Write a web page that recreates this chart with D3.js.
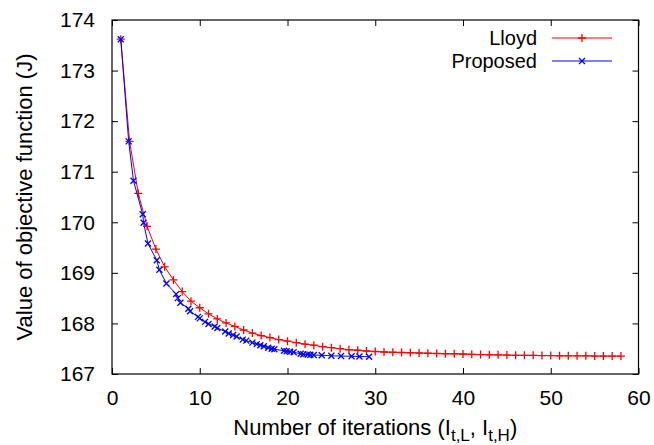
<!DOCTYPE html>
<html>
<head>
<meta charset="utf-8">
<script src="https://cdn.jsdelivr.net/npm/d3@7"></script>
<style>
    body { margin: 0; background: #fff; }
    text { font-family: "Liberation Sans", Arial, Helvetica, sans-serif; }
    .axis path { display: none; }
    .axis line { stroke: #000; stroke-width: 1; }
    .axis text { font-size: 21px; fill: #000; }
</style>
</head>
<body>
<div id="chart"></div>
<script>
// Lloyd: one value per iteration 1..58
const lloydX = d3.range(1, 59);
const lloydY = [
    173.62, 171.60, 170.57, 169.92, 169.47, 169.12, 168.86, 168.63, 168.44, 168.31,
    168.19, 168.09, 168.01, 167.94, 167.87, 167.81, 167.76, 167.72, 167.68, 167.65,
    167.62, 167.59, 167.57, 167.54, 167.52, 167.50, 167.48, 167.47, 167.455, 167.445,
    167.435, 167.43, 167.425, 167.42, 167.415, 167.41, 167.405, 167.40, 167.40, 167.395,
    167.39, 167.385, 167.38, 167.38, 167.375, 167.37, 167.37, 167.37, 167.365, 167.365,
    167.36, 167.36, 167.36, 167.36, 167.355, 167.355, 167.355, 167.355
];

// Proposed: fractional iteration counts
const propX = [
    1.0, 1.9, 2.45, 3.5, 3.6, 4.1, 5.1, 5.4, 6.2, 7.3,
    7.5, 7.8, 8.7, 8.9, 9.8, 10.0, 10.6, 11.0, 11.7, 12.0,
    12.9, 13.3, 13.8, 14.2, 14.9, 15.3, 16.0, 16.5, 16.9, 17.3,
    17.8, 18.2, 18.5, 19.6, 19.9, 20.3, 20.7, 21.5, 21.8, 22.3,
    22.6, 23.0, 23.9, 25.0, 26.1, 27.3, 28.2, 29.3
];
const propY = [
    173.62, 171.60, 170.82, 170.16, 169.99, 169.58, 169.25, 169.06, 168.79, 168.58,
    168.50, 168.41, 168.29, 168.24, 168.13, 168.10, 168.03, 167.99, 167.94, 167.91,
    167.84, 167.80, 167.77, 167.74, 167.68, 167.66, 167.62, 167.59, 167.57, 167.55,
    167.52, 167.50, 167.49, 167.46, 167.45, 167.44, 167.43, 167.40, 167.39, 167.385,
    167.38, 167.375, 167.37, 167.36, 167.355, 167.35, 167.345, 167.342
];

const xTicks = [0, 10, 20, 30, 40, 50, 60];
const yTicks = [167, 168, 169, 170, 171, 172, 173, 174];
const seriesNames = ['Lloyd', 'Proposed'];

(function () {

    const W = 654, H = 445;
    const left = 112, right = 638.5, top = 20, bottom = 374;

    const svg = d3.select('#chart')
        .append('svg')
        .attr('width', W)
        .attr('height', H);

    // scales
    const x = d3.scaleLinear().domain([0, 60]).range([left, right]);
    const y = d3.scaleLinear().domain([167, 174]).range([bottom, top]);

    // axes, ticks pointing inwards on all four sides
    svg.append('g')
        .attr('class', 'axis')
        .attr('transform', `translate(0, ${bottom})`)
        .call(d3.axisBottom(x).tickValues(xTicks).tickFormat(d3.format('d'))
            .tickSizeInner(-6).tickSizeOuter(0).tickPadding(16));

    svg.append('g')
        .attr('class', 'axis')
        .attr('transform', `translate(${left}, 0)`)
        .call(d3.axisLeft(y).tickValues(yTicks).tickFormat(d3.format('d'))
            .tickSizeInner(-6).tickSizeOuter(0).tickPadding(17));

    svg.append('g')
        .attr('class', 'axis')
        .attr('transform', `translate(0, ${top})`)
        .call(d3.axisTop(x).tickValues(xTicks).tickSizeInner(-6).tickSizeOuter(0).tickFormat(''));

    svg.append('g')
        .attr('class', 'axis')
        .attr('transform', `translate(${right}, 0)`)
        .call(d3.axisRight(y).tickValues(yTicks).tickSizeInner(-6).tickSizeOuter(0).tickFormat(''));

    svg.append('rect')
        .attr('x', left)
        .attr('y', top)
        .attr('width', right - left)
        .attr('height', bottom - top)
        .attr('fill', 'none')
        .attr('stroke', '#000')
        .attr('stroke-width', 1.2);

    // axis titles
    const xt = svg.append('text')
        .attr('x', (left + right) / 2)
        .attr('y', 435)
        .attr('text-anchor', 'middle')
        .attr('font-size', 22);
    xt.append('tspan').text('Number of iterations (I');
    xt.append('tspan').attr('dy', 6).attr('font-size', 17).text('t,L');
    xt.append('tspan').attr('dy', -6).text(', I');
    xt.append('tspan').attr('dy', 6).attr('font-size', 17).text('t,H');
    xt.append('tspan').attr('dy', -6).text(')');

    svg.append('text')
        .attr('transform', `translate(32, ${(top + bottom) / 2}) rotate(-90)`)
        .attr('text-anchor', 'middle')
        .attr('font-size', 22)
        .text('Value of objective function (J)');

    const line = d3.line()
        .x(d => x(d[0]))
        .y(d => y(d[1]));

    const plus = (g, s) => g.append('path')
        .attr('d', `M${-s},0H${s}M0,${-s}V${s}`);
    const cross = (g, s) => g.append('path')
        .attr('d', `M${-s},${-s}L${s},${s}M${-s},${s}L${s},${-s}`);

    const series = [
        { name: seriesNames[0], color: '#ff0000', data: d3.zip(lloydX, lloydY), mark: plus, size: 4 },
        { name: seriesNames[1], color: '#0000ff', data: d3.zip(propX, propY), mark: cross, size: 3 }
    ];

    series.forEach((s, i) => {
        const g = svg.append('g');

        g.append('path')
            .datum(s.data)
            .attr('d', line)
            .attr('fill', 'none')
            .attr('stroke', s.color)
            .attr('stroke-width', 1);

        g.selectAll('g.pt')
            .data(s.data)
            .enter()
            .append('g')
            .attr('class', 'pt')
            .attr('transform', d => `translate(${x(d[0])}, ${y(d[1])})`)
            .each(function () {
                s.mark(d3.select(this), s.size)
                    .attr('stroke', s.color)
                    .attr('stroke-width', 1.3)
                    .attr('fill', 'none');
            });

        // legend
        const ly = 38 + i * 23;
        svg.append('text')
            .attr('x', 537)
            .attr('y', ly + 7)
            .attr('text-anchor', 'end')
            .attr('font-size', 20)
            .text(s.name);
        svg.append('line')
            .attr('x1', 552).attr('x2', 612)
            .attr('y1', ly).attr('y2', ly)
            .attr('stroke', s.color)
            .attr('stroke-width', 1);
        const lm = svg.append('g').attr('transform', `translate(582, ${ly})`);
        s.mark(lm, s.size)
            .attr('stroke', s.color)
            .attr('stroke-width', 1.3);
    });

})();
</script>
</body>
</html>
